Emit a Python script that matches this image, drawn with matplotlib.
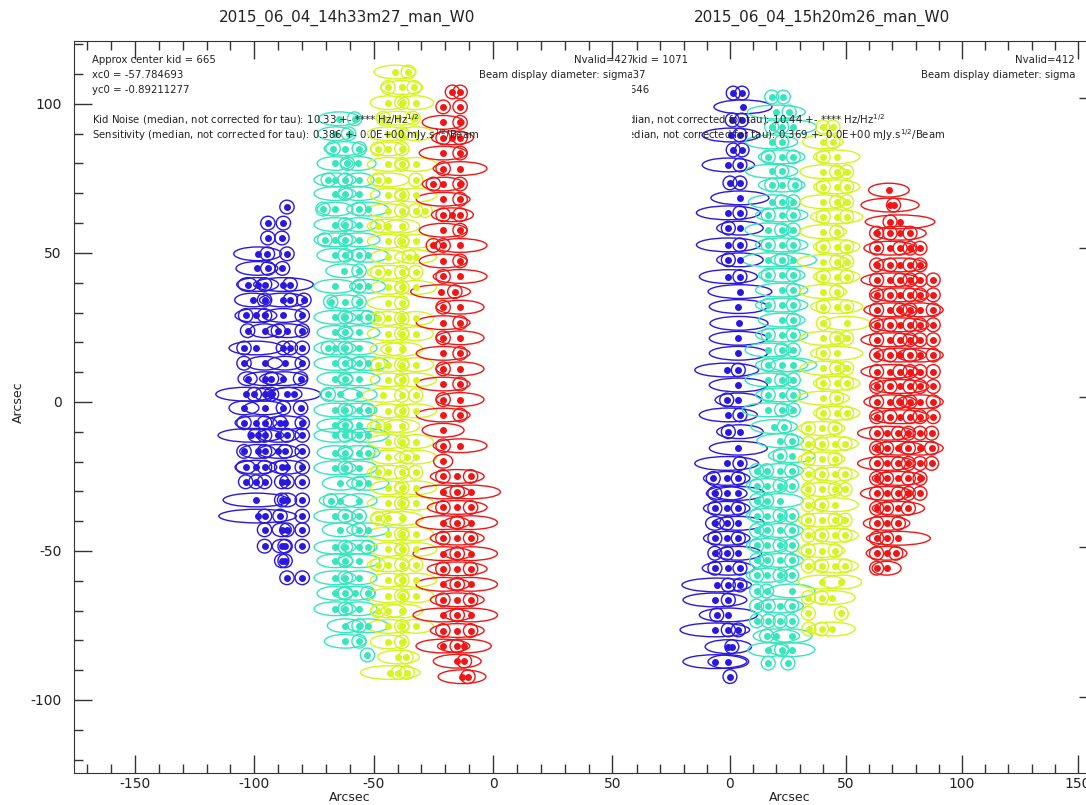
import matplotlib.pyplot as plt
from matplotlib.patches import Ellipse
from matplotlib.ticker import MultipleLocator

plt.rcParams["axes.unicode_minus"] = False

# each row: (y, dot x positions, ellipse widths) in arcsec
LEFT_BLUE = [
    (65.4, [-86.3], [6]),
    (60.0, [-94.3, -87.8], [6, 6]),
    (55.0, [-94.3, -88.4], [6, 6]),
    (49.7, [-98.6, -94.5, -86.3], [16, 6, 6]),
    (44.8, [-98.9, -94.3, -88.2], [14, 6, 6]),
    (39.4, [-102.8, -98.6, -95.7, -87.8, -85.0], [8, 14, 6, 20, 6]),
    (34.2, [-100.7, -95.7, -87.8, -84.9, -79.2], [12, 6, 16, 6, 6]),
    (29.0, [-103.6, -99.3, -95.7, -87.8, -79.9], [6, 14, 6, 14, 6]),
    (23.9, [-102.8, -95.7, -89.9, -86.3, -79.9], [6, 10, 6, 14, 6]),
    (18.1, [-104.3, -99.3, -87.8, -84.9, -79.9], [6, 18, 6, 6, 6]),
    (13.0, [-104.3, -95.7, -87.1, -79.9], [6, 12, 12, 6]),
    (7.8, [-102.8, -95.7, -92.8, -87.8, -80.6], [8, 14, 6, 16, 6]),
    (2.6, [-103.6, -100.0, -95.7, -92.8, -86.3, -83.5], [20, 6, 8, 6, 10, 18]),
    (-2.0, [-104.3, -95.7, -87.8, -80.6], [10, 14, 6, 6]),
    (-7.0, [-104.3, -99.3, -95.7, -89.2, -87.1, -79.9], [6, 14, 6, 6, 14, 6]),
    (-11.2, [-101.4, -98.6, -95.7, -89.9, -86.3, -79.9], [22, 8, 6, 14, 6, 6]),
    (-16.6, [-104.3, -98.6, -95.7, -89.9, -87.1, -79.9], [6, 12, 6, 14, 6, 6]),
    (-21.9, [-103.6, -99.3, -95.7, -88.5, -86.3, -79.9], [8, 14, 6, 6, 12, 6]),
    (-26.8, [-103.6, -99.3, -95.7, -88.5, -86.3, -79.9], [6, 6, 6, 6, 6, 6]),
    (-32.9, [-99.3, -88.5, -86.3, -79.9], [22, 6, 8, 6]),
    (-38.3, [-98.6, -95.7, -89.2, -79.9], [26, 6, 6, 6]),
    (-42.9, [-95.7, -88.5, -86.3, -79.9], [6, 8, 6, 6]),
    (-48.4, [-95.7, -88.5, -87.1, -79.9], [6, 8, 6, 6]),
    (-53.3, [-88.5, -87.1], [6, 6]),
    (-59.0, [-86.3, -79.9], [6, 6]),
]

LEFT_CYAN = [
    (95.0, [-64.5, -58.0], [14, 6]),
    (90.0, [-66.0, -60.5], [12, 6]),
    (85.0, [-67.0, -62.0, -56.0], [6, 14, 6]),
    (80.0, [-66.2, -61.0, -56.5], [12, 6, 12]),
    (74.5, [-69.0, -66.2, -61.9, -56.1], [6, 14, 6, 10]),
    (69.9, [-66.2, -61.9, -56.1], [14, 6, 14]),
    (64.7, [-71.2, -66.2, -56.1, -52.5], [6, 12, 6, 14]),
    (59.5, [-66.2, -61.9, -56.1], [14, 6, 12]),
    (54.4, [-70.5, -66.2, -61.9, -56.1], [6, 14, 6, 14]),
    (49.2, [-66.2, -61.9, -56.1, -52.5], [12, 6, 6, 14]),
    (44.0, [-62.5, -56.1], [12, 6]),
    (38.8, [-66.2, -56.1, -52.5], [14, 6, 12]),
    (33.6, [-68.0, -62.0, -56.1], [6, 12, 6]),
    (28.4, [-66.2, -61.9, -56.1, -52.5], [14, 6, 12, 6]),
    (23.3, [-66.2, -61.9, -56.1], [12, 6, 14]),
    (18.1, [-69.0, -66.2, -61.9, -56.1], [6, 14, 6, 12]),
    (12.9, [-66.2, -61.9, -56.1, -52.5], [14, 6, 6, 14]),
    (7.7, [-66.2, -61.9, -56.1], [12, 6, 14]),
    (2.5, [-69.0, -64.0, -56.1], [6, 14, 12]),
    (-2.7, [-66.2, -61.9, -56.1, -52.5], [14, 6, 12, 6]),
    (-7.9, [-66.2, -61.9, -56.1], [12, 6, 14]),
    (-11.2, [-66.2, -61.9, -56.1, -52.5], [14, 6, 6, 14]),
    (-17.0, [-66.2, -61.9, -56.1, -52.5], [12, 6, 14, 6]),
    (-22.1, [-66.2, -61.9, -56.1], [14, 6, 12]),
    (-27.3, [-64.0, -56.1, -52.5], [12, 6, 14]),
    (-33.1, [-68.0, -64.0, -56.1], [6, 14, 12]),
    (-38.3, [-66.2, -61.9, -56.1], [14, 6, 6]),
    (-42.9, [-64.0, -56.1, -52.5], [12, 6, 14]),
    (-48.7, [-66.2, -61.9, -56.1, -52.5], [14, 6, 12, 6]),
    (-53.3, [-66.2, -61.9, -56.1], [12, 6, 14]),
    (-59.0, [-66.2, -61.9, -56.1], [14, 6, 12]),
    (-64.2, [-66.2, -61.9, -58.0, -52.5], [12, 6, 14, 6]),
    (-69.4, [-66.2, -61.9, -56.1], [14, 6, 12]),
    (-75.1, [-61.9, -56.1, -52.5], [12, 6, 14]),
    (-80.3, [-61.9, -56.1], [14, 6]),
    (-84.9, [-52.6], [6]),
]

LEFT_YELLOW = [
    (110.7, [-41.0, -35.5], [14, 6]),
    (105.5, [-44.0, -38.2, -33.0], [6, 14, 6]),
    (100.4, [-43.9, -38.2, -32.4], [12, 6, 12]),
    (95.2, [-46.0, -40.0, -33.5], [6, 14, 6]),
    (90.0, [-43.9, -38.2, -32.4], [14, 6, 12]),
    (84.9, [-48.2, -43.9, -38.2], [6, 12, 6]),
    (79.7, [-43.9, -38.2, -32.4], [14, 6, 14]),
    (74.5, [-48.2, -43.9, -32.4], [6, 14, 6]),
    (69.4, [-43.9, -38.2, -32.4], [12, 6, 14]),
    (64.2, [-43.9, -38.2, -32.4, -28.5], [14, 6, 6, 6]),
    (59.0, [-48.2, -43.9, -38.2], [6, 14, 12]),
    (53.9, [-43.9, -38.2, -32.4], [14, 6, 12]),
    (48.7, [-43.9, -35.0, -32.4], [12, 6, 14]),
    (43.5, [-48.2, -43.9, -38.2, -32.4], [6, 14, 6, 6]),
    (38.4, [-43.9, -38.2, -32.4], [12, 6, 14]),
    (33.2, [-43.9, -38.2], [14, 6]),
    (28.0, [-48.2, -43.9, -38.2, -32.4], [6, 12, 6, 12]),
    (22.9, [-43.9, -38.2, -32.4], [14, 6, 12]),
    (17.7, [-43.9, -38.2], [12, 14]),
    (12.5, [-48.2, -43.9, -38.2, -32.4], [6, 14, 6, 12]),
    (7.4, [-43.9, -38.2, -32.4], [12, 6, 14]),
    (2.2, [-46.0, -38.2, -32.4], [14, 6, 6]),
    (-3.0, [-43.9, -38.2, -32.4], [12, 6, 14]),
    (-8.1, [-48.2, -43.9, -38.2], [6, 14, 12]),
    (-13.3, [-43.9, -38.2, -32.4], [14, 6, 12]),
    (-18.5, [-43.9, -36.0, -32.4], [12, 6, 14]),
    (-23.6, [-48.2, -43.9, -38.2, -32.4], [6, 14, 6, 6]),
    (-28.8, [-43.9, -38.2, -32.4], [12, 6, 14]),
    (-34.0, [-43.9, -38.2, -32.4], [14, 6, 12]),
    (-39.1, [-48.2, -43.9, -38.2], [6, 12, 14]),
    (-44.3, [-43.9, -38.2, -32.4], [14, 6, 12]),
    (-49.5, [-43.9, -38.2, -32.4], [12, 6, 14]),
    (-54.6, [-48.2, -43.9, -38.2, -32.4], [6, 14, 6, 6]),
    (-59.8, [-43.9, -38.2, -32.4], [12, 6, 14]),
    (-65.0, [-43.9, -38.2, -32.4], [14, 6, 12]),
    (-70.1, [-48.2, -43.9, -38.2], [6, 12, 14]),
    (-75.3, [-43.9, -38.2, -32.4], [14, 6, 12]),
    (-80.5, [-43.9, -38.2], [12, 6]),
    (-85.6, [-39.6, -36.5], [14, 6]),
    (-90.8, [-43.0, -39.6, -36.0], [20, 6, 6]),
]

LEFT_RED = [
    (104.0, [-17.0, -13.8], [6, 6]),
    (99.0, [-20.9, -13.8], [6, 6]),
    (93.8, [-20.9, -13.8], [14, 6]),
    (88.6, [-20.9, -17.0, -13.8], [6, 14, 6]),
    (83.5, [-20.9, -13.8], [16, 6]),
    (78.3, [-20.9, -13.8], [6, 18]),
    (73.1, [-25.0, -20.9, -13.8], [6, 14, 6]),
    (68.0, [-20.9, -13.8], [18, 6]),
    (62.8, [-20.9, -17.0, -13.8], [6, 14, 6]),
    (57.6, [-20.9, -13.8], [16, 6]),
    (52.5, [-25.0, -20.9, -13.8], [6, 6, 18]),
    (47.3, [-20.9, -13.8], [16, 6]),
    (42.1, [-20.9, -13.8], [6, 18]),
    (37.0, [-22.0, -16.0], [20, 6]),
    (31.8, [-20.9, -13.8], [6, 16]),
    (26.6, [-20.9, -13.8], [18, 6]),
    (21.5, [-20.9, -13.8], [6, 16]),
    (16.3, [-20.9, -13.8], [18, 6]),
    (11.1, [-20.9, -13.8], [6, 16]),
    (6.0, [-20.9, -13.8], [18, 6]),
    (0.8, [-20.9, -13.8], [6, 16]),
    (-4.4, [-20.9, -13.8], [18, 6]),
    (-9.5, [-20.9], [14]),
    (-14.7, [-20.9, -13.8], [6, 18]),
    (-19.9, [-20.9], [8]),
    (-25.0, [-21.0, -15.0, -9.4], [6, 18, 6]),
    (-30.2, [-21.0, -15.0, -9.4], [18, 6, 20]),
    (-35.4, [-21.0, -15.0, -9.4], [6, 20, 6]),
    (-40.5, [-21.0, -15.0, -9.4], [18, 6, 18]),
    (-45.7, [-21.0, -15.0, -9.4], [6, 18, 6]),
    (-50.9, [-21.0, -15.0, -9.4], [20, 6, 18]),
    (-56.0, [-21.0, -15.0, -9.4], [6, 20, 6]),
    (-61.2, [-21.0, -15.0, -9.4], [18, 6, 18]),
    (-66.4, [-21.0, -15.0, -9.4], [6, 18, 6]),
    (-71.5, [-21.0, -15.0, -9.4], [20, 6, 18]),
    (-76.7, [-21.0, -15.0, -9.4], [6, 18, 6]),
    (-81.9, [-21.0, -15.0, -12.0], [18, 6, 18]),
    (-87.0, [-15.0, -12.0], [16, 6]),
    (-92.2, [-13.0, -10.5], [16, 6]),
]

RIGHT_BLUE = [
    (101.6, [1.4, 5.2], [6, 6]),
    (97.0, [5.6], [20]),
    (92.6, [1.0, 5.0], [6, 6]),
    (87.6, [0.5, 4.3], [20, 6]),
    (82.6, [1.4, 5.2], [6, 6]),
    (77.6, [-0.7, 4.3], [18, 6]),
    (71.6, [0.0, 4.3], [6, 6]),
    (66.6, [4.3], [20]),
    (61.6, [-0.7, 4.3], [22, 6]),
    (56.5, [-0.7, 4.3], [6, 16]),
    (50.9, [-0.7, 4.3], [22, 6]),
    (45.9, [-0.7, 4.3], [6, 16]),
    (40.3, [-0.7, 4.3], [20, 6]),
    (35.3, [4.3], [22]),
    (30.3, [3.6], [20]),
    (24.7, [3.9], [20]),
    (19.7, [3.6], [20]),
    (14.7, [3.6], [20]),
    (9.1, [-1.4, 3.6], [22, 6]),
    (4.1, [3.6], [20]),
    (-0.9, [-1.4, 3.6], [6, 16]),
    (-5.9, [-0.7, 4.3], [20, 6]),
    (-11.5, [-0.7, 4.3], [6, 16]),
    (-17.0, [3.6], [20]),
    (-22.1, [-1.4, 4.3], [22, 6]),
    (-27.1, [-7.2, -1.4, 3.6], [6, 16, 6]),
    (-32.1, [-6.5, -1.4, 3.6], [6, 14, 18]),
    (-37.1, [-6.5, -1.4, 3.6], [6, 16, 6]),
    (-42.1, [-6.5, -1.4, 3.6], [8, 6, 18]),
    (-47.1, [-6.5, -1.4, 3.6], [6, 16, 6]),
    (-52.1, [-6.5, -1.4, 3.6], [6, 6, 16]),
    (-57.1, [-6.5, -0.7, 4.3], [6, 18, 6]),
    (-62.7, [-5.7, -0.7, 4.3], [24, 6, 6]),
    (-67.7, [-6.5, -0.7], [22, 6]),
    (-72.7, [-5.7, -0.7], [6, 20]),
    (-77.7, [-6.5, -0.7, 3.6], [24, 6, 6]),
    (-83.3, [-0.7, 0.8], [16, 6]),
    (-88.3, [-6.5, -0.7], [22, 14]),
    (-93.3, [0.0], [6]),
]

RIGHT_CYAN = [
    (100.3, [18.0, 23.0], [6, 6]),
    (95.3, [20.0, 25.5], [20, 6]),
    (90.3, [18.0, 22.3, 27.3], [6, 6, 16]),
    (85.3, [18.0, 22.3], [18, 6]),
    (80.3, [16.5, 22.3, 27.3], [6, 16, 6]),
    (75.5, [18.0, 22.3], [18, 6]),
    (70.9, [18.0, 22.3, 28.0], [6, 16, 6]),
    (65.3, [18.0, 22.3, 27.3], [16, 6, 6]),
    (60.9, [16.5, 22.3, 27.3], [6, 18, 6]),
    (55.9, [16.5, 22.3, 27.3], [16, 6, 6]),
    (50.9, [16.5, 22.3, 27.3], [6, 18, 6]),
    (45.9, [16.5, 22.3, 27.3], [18, 6, 16]),
    (40.8, [16.5, 22.3, 27.3], [6, 16, 6]),
    (35.8, [22.3, 27.3], [18, 6]),
    (30.8, [16.5, 22.3, 27.3], [6, 18, 6]),
    (25.8, [22.3, 27.3], [16, 6]),
    (20.8, [16.5, 22.3, 27.3], [6, 18, 6]),
    (15.8, [16.5, 22.3, 27.3], [16, 6, 6]),
    (10.8, [16.5, 22.3, 27.3], [6, 18, 16]),
    (5.8, [16.5, 22.3, 27.3], [16, 6, 6]),
    (0.8, [16.5, 22.3, 27.3], [6, 18, 6]),
    (-4.2, [16.5, 22.3, 27.3], [18, 6, 6]),
    (-9.8, [19.0, 23.5], [16, 6]),
    (-14.5, [21.6, 26.6], [16, 6]),
    (-19.5, [21.6, 26.6], [6, 16]),
    (-24.5, [11.5, 15.8, 21.6, 26.6], [6, 6, 16, 6]),
    (-29.5, [11.5, 15.8, 21.6, 26.6], [6, 14, 6, 6]),
    (-34.5, [11.5, 15.8, 21.6], [6, 6, 16]),
    (-39.5, [11.5, 15.8, 21.6, 26.6], [6, 14, 6, 6]),
    (-44.5, [11.5, 15.8, 21.6, 26.6], [6, 6, 16, 6]),
    (-49.5, [11.5, 15.8, 21.6, 26.6], [6, 14, 6, 6]),
    (-54.5, [11.5, 15.8, 21.6, 26.6], [6, 6, 16, 6]),
    (-59.5, [11.5, 15.8, 21.6, 26.6], [6, 14, 6, 6]),
    (-64.7, [11.5, 15.8, 26.6], [6, 6, 16]),
    (-69.7, [11.5, 16.5, 21.6, 26.6], [6, 6, 16, 6]),
    (-74.7, [11.5, 16.5, 21.6, 26.6], [6, 6, 6, 6]),
    (-79.7, [15.8, 20.0, 26.6], [6, 16, 14]),
    (-84.3, [16.5, 22.3, 26.6], [14, 6, 16]),
    (-88.8, [16.5, 25.0], [6, 6]),
]

RIGHT_YELLOW = [
    (90.3, [40.0, 44.4], [6, 6]),
    (85.3, [40.0, 44.4], [14, 6]),
    (80.3, [40.2, 46.0], [6, 16]),
    (75.3, [40.2, 46.0, 50.3], [16, 6, 6]),
    (70.3, [40.2, 46.0, 50.3], [6, 16, 6]),
    (65.3, [40.2, 46.0, 50.3], [16, 6, 6]),
    (60.3, [40.2, 46.0, 50.3], [6, 18, 6]),
    (55.3, [40.2, 46.0], [16, 6]),
    (50.3, [40.2, 46.0, 50.3], [6, 16, 6]),
    (45.3, [40.2, 46.0, 50.3], [18, 6, 6]),
    (40.3, [40.2, 46.0, 50.3], [6, 16, 6]),
    (35.3, [40.2, 46.0], [16, 6]),
    (30.3, [40.2, 46.0, 50.3], [6, 18, 6]),
    (24.7, [40.2, 50.3], [6, 16]),
    (19.7, [40.2, 46.0, 50.3], [16, 6, 6]),
    (14.7, [40.2, 46.0], [6, 18]),
    (9.7, [40.2, 46.0, 50.3], [16, 6, 6]),
    (4.7, [40.2, 46.0, 50.3], [6, 16, 6]),
    (-0.3, [40.2, 46.0], [18, 6]),
    (-5.3, [40.2, 46.0, 50.3], [6, 16, 6]),
    (-10.4, [33.8, 39.5, 45.3], [6, 16, 6]),
    (-15.5, [33.8, 39.5, 45.3, 49.6], [6, 6, 16, 6]),
    (-20.6, [33.8, 39.5, 45.3], [6, 16, 6]),
    (-25.7, [33.8, 39.5, 45.3, 49.6], [6, 6, 16, 6]),
    (-30.8, [33.8, 39.5, 45.3, 49.6], [6, 14, 6, 6]),
    (-35.9, [33.8, 39.5, 45.3], [6, 6, 16]),
    (-41.0, [33.8, 39.5, 45.3, 49.6], [6, 16, 6, 6]),
    (-46.1, [33.8, 39.5, 45.3, 49.6], [6, 6, 16, 6]),
    (-51.2, [33.8, 39.5, 45.3], [6, 16, 6]),
    (-56.3, [33.8, 39.5, 45.3, 49.6], [6, 6, 16, 6]),
    (-61.7, [39.5, 48.0], [16, 14]),
    (-66.9, [33.8, 39.5, 44.0], [6, 6, 16]),
    (-72.2, [33.8, 48.0], [6, 6]),
    (-77.4, [34.0, 39.5, 44.0], [6, 6, 16]),
]

RIGHT_RED = [
    (69.2, [68.5], [14]),
    (64.2, [69.0, 70.5], [20, 6]),
    (58.6, [69.0, 73.3], [6, 24]),
    (54.8, [63.2, 69.0, 73.3, 77.6], [6, 6, 18, 6]),
    (49.8, [63.2, 69.0, 73.3, 77.6, 81.9], [6, 18, 6, 6, 6]),
    (44.2, [63.2, 69.0, 73.3, 77.6, 81.9], [6, 6, 18, 6, 6]),
    (39.2, [63.2, 69.0, 73.3, 77.6, 81.9, 87.6], [6, 20, 6, 6, 6, 6]),
    (34.2, [63.2, 69.0, 73.3, 77.6, 81.9, 87.6], [6, 6, 20, 6, 6, 6]),
    (29.2, [63.2, 69.0, 73.3, 77.6, 81.9, 87.6], [6, 18, 6, 6, 16, 6]),
    (24.2, [63.2, 69.0, 73.3, 77.6, 81.9, 87.6], [6, 6, 20, 6, 6, 6]),
    (19.2, [63.2, 69.0, 73.3, 77.6, 81.9, 87.6], [6, 20, 6, 6, 6, 6]),
    (14.1, [63.2, 69.0, 73.3, 77.6, 81.9, 87.6], [6, 6, 18, 6, 16, 6]),
    (8.6, [63.2, 69.0, 73.3, 77.6, 81.9, 87.6], [6, 20, 6, 6, 6, 6]),
    (3.6, [63.2, 69.0, 73.3, 77.6, 81.9, 87.6], [6, 6, 20, 6, 6, 6]),
    (-1.5, [63.2, 69.0, 73.3, 77.6, 81.9, 87.6], [6, 18, 6, 6, 16, 6]),
    (-6.5, [63.2, 69.0, 73.3, 77.6, 81.9, 87.6], [6, 6, 20, 6, 6, 6]),
    (-12.0, [63.2, 67.5, 72.6, 76.9, 81.9, 86.9], [6, 20, 6, 6, 6, 6]),
    (-17.0, [63.2, 67.5, 72.6, 76.9, 81.9, 86.9], [6, 6, 18, 6, 16, 6]),
    (-22.1, [63.2, 67.5, 72.6, 76.9, 81.9, 86.9], [6, 20, 6, 6, 6, 6]),
    (-27.1, [63.2, 67.5, 72.6, 76.9, 81.9], [6, 6, 18, 6, 6]),
    (-32.1, [63.2, 67.5, 72.6, 76.9, 81.9], [6, 18, 6, 6, 6]),
    (-37.1, [63.2, 67.5, 72.6, 76.9], [6, 6, 18, 6]),
    (-42.1, [63.2, 67.5, 72.6], [6, 16, 6]),
    (-47.1, [63.2, 67.5, 72.6], [6, 6, 22]),
    (-52.1, [63.2, 67.5, 71.5], [6, 14, 6]),
    (-57.1, [63.2, 67.5], [6, 10]),
]

COLORS = {"blue": "#2a18e0", "cyan": "#36e6bd", "yellow": "#d4f51e", "red": "#f01616"}

LEFT_TITLE = "2015_06_04_14h33m27_man_W0"
RIGHT_TITLE = "2015_06_04_15h20m26_man_W0"
LEFT_INFO = ["Approx center kid = 665", "xc0 = -57.784693", "yc0 = -0.89211277",
             "Kid Noise (median, not corrected for tau): 10.33 +- **** Hz/Hz$^{1/2}$",
             "Sensitivity (median, not corrected for tau): 0.386 +- 0.0E+00 mJy.s$^{1/2}$/Beam"]
RIGHT_INFO = ["Approx center kid = 1071", "xc0 = 37.786137", "yc0 = -3.3519646",
              "Kid Noise (median, not corrected for tau): 10.44 +- **** Hz/Hz$^{1/2}$",
              "Sensitivity (median, not corrected for tau): 0.369 +- 0.0E+00 mJy.s$^{1/2}$/Beam"]
LEFT_NVALID = "Nvalid=427"
RIGHT_NVALID = "Nvalid=412"

W, H = 1086, 805
INK = "#333333"
TEXT = "#222222"


def _draw_column(axis, rows, color):
    for y, xs, ws in rows:
        for x, w in zip(xs, ws):
            # the long beams look a bit longer than the listed widths once drawn
            width = w * 1.25 if w > 8 else w
            axis.add_patch(Ellipse((x, y), width, 4.6, fill=False, edgecolor=color, linewidth=1.0))
        axis.plot(xs, [y] * len(xs), "o", color=color, markersize=5, markeredgewidth=0)


def _style(axis):
    for side in ["top", "bottom", "left", "right"]:
        axis.spines[side].set_color(INK)
    axis.xaxis.set_major_locator(MultipleLocator(50))
    axis.xaxis.set_minor_locator(MultipleLocator(10))
    axis.yaxis.set_major_locator(MultipleLocator(50))
    axis.yaxis.set_minor_locator(MultipleLocator(10))
    axis.tick_params(which="both", direction="in", top=True, color=INK, labelsize=10, labelcolor=TEXT)
    axis.tick_params(which="major", length=13, width=1.0)
    axis.tick_params(which="minor", length=6.5, width=1.0)
    axis.tick_params(axis="x", pad=3)
    axis.tick_params(axis="y", pad=9)


def _info(axis, lines, nvalid, x_left, x_right, clip):
    ys = [0.974, 0.9535, 0.933, 0.893, 0.871]
    for text, y in zip(lines, ys):
        axis.text(x_left, y, text, transform=axis.transAxes, fontsize=7.3, va="center", ha="left",
                  color=TEXT, clip_on=clip)
    axis.text(x_right, ys[0], nvalid, transform=axis.transAxes, fontsize=7.3, va="center",
              ha="right", color=TEXT, clip_on=clip)
    axis.text(x_right, ys[1], "Beam display diameter: sigma", transform=axis.transAxes,
              fontsize=7.3, va="center", ha="right", color=TEXT, clip_on=clip)


fig = plt.figure(figsize=(W / 100, H / 100), dpi=100)
bottom = 1 - 773 / H
height = 732 / H

ax_r = fig.add_axes([536 / W, bottom, 561 / W, height])
ax_l = fig.add_axes([74 / W, bottom, 558 / W, height])
ax_r.set_zorder(1)
ax_l.set_zorder(2)
ax_l.set_facecolor("white")

for axis, cols in [(ax_l, [LEFT_BLUE, LEFT_CYAN, LEFT_YELLOW, LEFT_RED]),
                   (ax_r, [RIGHT_BLUE, RIGHT_CYAN, RIGHT_YELLOW, RIGHT_RED])]:
    for rows, name in zip(cols, ["blue", "cyan", "yellow", "red"]):
        _draw_column(axis, rows, COLORS[name])
    _style(axis)

ax_l.set_xlim(-175.5, 58.2)
ax_l.set_ylim(-124.5, 121.1)
ax_l.spines["right"].set_visible(False)
ax_l.tick_params(which="both", right=False)

ax_r.set_xlim(-83.6, 158.2)
ax_r.set_ylim(-125.5, 119.0)
ax_r.set_xticks([0, 50, 100, 150])
ax_r.tick_params(which="both", right=True, labelleft=False)

_info(ax_l, LEFT_INFO, LEFT_NVALID, 0.032, 1.003, True)
_info(ax_r, RIGHT_INFO, RIGHT_NVALID, 0.040, 0.961, False)

fig.text(347 / W, 1 - 18 / H, LEFT_TITLE, fontsize=11, ha="center", va="center", color=TEXT)
fig.text(822 / W, 1 - 18 / H, RIGHT_TITLE, fontsize=11, ha="center", va="center", color=TEXT)
fig.text(350 / W, 1 - 797 / H, "Arcsec", fontsize=9, ha="center", va="center", color=TEXT)
fig.text(790 / W, 1 - 797 / H, "Arcsec", fontsize=9, ha="center", va="center", color=TEXT)
fig.text(18 / W, 1 - 402 / H, "Arcsec", fontsize=9, ha="center", va="center", rotation=90,
         color=TEXT)

fig.savefig("out.png", dpi=100)
